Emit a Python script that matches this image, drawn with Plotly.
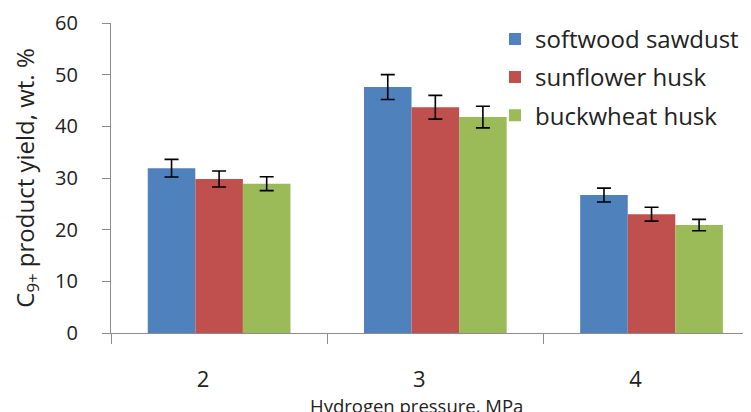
import plotly.graph_objects as go

categories = ["2", "3", "4"]
series_names = ["softwood sawdust", "sunflower husk", "buckwheat husk"]
softwood = [31.9, 47.6, 26.7]
sunflower = [29.8, 43.7, 23.0]
buckwheat = [28.9, 41.8, 20.9]
softwood_err = [1.7, 2.4, 1.35]
sunflower_err = [1.55, 2.3, 1.35]
buckwheat_err = [1.35, 2.1, 1.1]
colors = ["#4F81BD", "#C0504D", "#9BBB59"]
y_ticks = [0, 10, 20, 30, 40, 50, 60]
x_title = "Hydrogen pressure, MPa"
y_title = "C<sub>9+</sub> product yield, wt. %"

FONT = "Open Sans"
values = [softwood, sunflower, buckwheat]
errors = [softwood_err, sunflower_err, buckwheat_err]

fig = go.Figure()
for name, vals, errs, col in zip(series_names, values, errors, colors):
    fig.add_trace(go.Bar(
        x=categories, y=vals, name=name, legendgroup=name,
        marker=dict(color=col, line=dict(width=0)),
        error_y=dict(type="data", array=errs, visible=True,
                     color="black", thickness=1.6, width=7),
    ))

fig.add_annotation(
    text=x_title, xref="paper", yref="paper", x=0.478, y=0,
    xanchor="center", yanchor="middle", yshift=-72, showarrow=False,
    font=dict(family=FONT, size=18.5, color="#222222"),
)

fig.update_layout(
    width=751, height=412,
    margin=dict(l=103, r=8, t=15, b=87, autoexpand=False),
    paper_bgcolor="white", plot_bgcolor="white",
    barmode="group", bargap=0.34, bargroupgap=0,
    font=dict(family=FONT, size=21, color="#222222"),
    showlegend=True,
    legend=dict(x=0.6, xanchor="left", y=1.02, yanchor="top",
                font=dict(family=FONT, size=24, color="#222222"),
                tracegroupgap=4, bgcolor="rgba(0,0,0,0)", borderwidth=0),
    xaxis=dict(
        type="category", range=[-0.5, 2.46],
        showline=True, linecolor="#8c8c8c", linewidth=1.3,
        ticks="outside", tickson="boundaries", ticklen=10, tickcolor="#8c8c8c",
        tickwidth=1.3, showgrid=False, zeroline=False,
        tickfont=dict(family=FONT, size=22, color="#222222"),
        ticklabelstandoff=26, ticklabelshift=-16,
    ),
    yaxis=dict(
        range=[0, 60], tickvals=y_ticks,
        showline=True, linecolor="#8c8c8c", linewidth=1.3,
        ticks="outside", ticklen=8, tickcolor="#8c8c8c", tickwidth=1.3,
        showgrid=False, zeroline=False,
        tickfont=dict(family=FONT, size=20, color="#222222"),
        ticklabelstandoff=20,
        title=dict(text=y_title, standoff=15,
                   font=dict(family=FONT, size=24, color="#222222")),
    ),
)

fig.write_html("out.html")
